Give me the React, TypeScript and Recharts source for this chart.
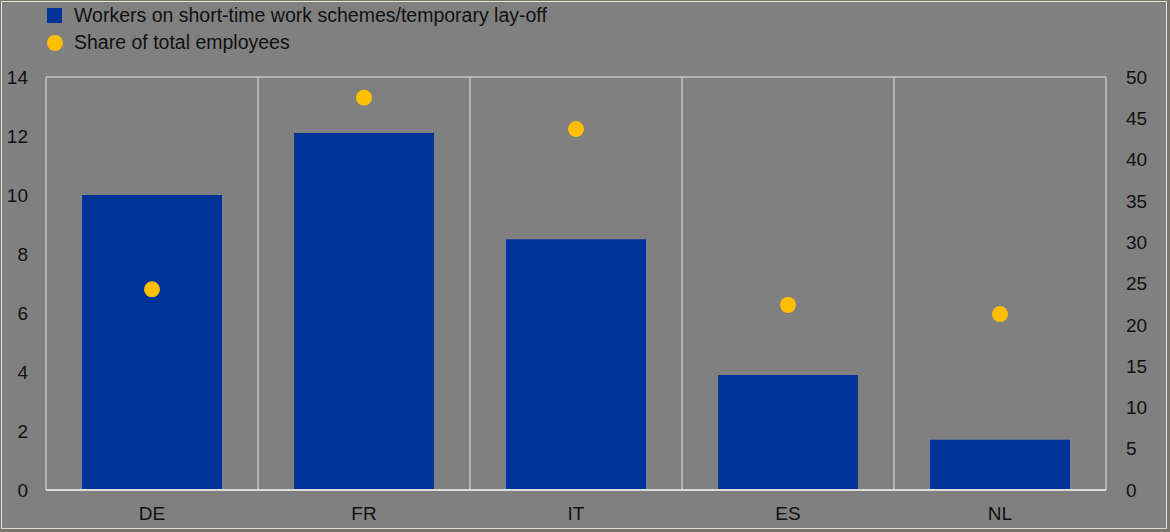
import * as React from "react";
import {Bar, CartesianGrid, ComposedChart, Line, XAxis, YAxis} from "recharts";

document.body.style.margin = "0";

const countries = ["DE", "FR", "IT", "ES", "NL"];
const workers = [10.0, 12.1, 8.5, 3.9, 1.7]; // millions, left axis
const share = [24.3, 47.5, 43.7, 22.4, 21.3]; // %, right axis
const leftTicks = [0, 2, 4, 6, 8, 10, 12, 14];
const rightTicks = [0, 5, 10, 15, 20, 25, 30, 35, 40, 45, 50];

const data = countries.map((name, i) => ({name, workers: workers[i], share: share[i]}));

const BLUE = "#003399";
const YELLOW = "#ffbf00";
const GRID = "#c4c4c4";
const font = "'Liberation Sans', Arial, sans-serif";

export default function App() {
  const tickStyle = {fill: "#111", fontSize: 19, fontFamily: font};
  return (
    <div style={{position: "relative", width: 1170, height: 532, background: "#75756c", overflow: "hidden"}}>
      <div style={{position: "absolute", left: 1, top: 1, width: 1164, height: 526, border: "1px solid #e4e4d0", background: "#808080"}} />
      <div style={{position: "absolute", left: 47, top: 2, fontFamily: font, fontSize: 19.5, color: "#111", lineHeight: "27px"}}>
        <div style={{display: "flex", alignItems: "center"}}>
          <span style={{width: 15, height: 15, background: BLUE, display: "inline-block", marginRight: 12}} />
          Workers on short-time work schemes/temporary lay-off
        </div>
        <div style={{display: "flex", alignItems: "center"}}>
          <span style={{width: 16, height: 16, borderRadius: 8, background: YELLOW, display: "inline-block", marginRight: 11}} />
          Share of total employees
        </div>
      </div>
      <div style={{position: "absolute", left: 0, top: 0}}>
        <ComposedChart width={1170} height={532} data={data} margin={{top: 77, right: 0, bottom: 0, left: 0}} barCategoryGap="17%">
          <CartesianGrid
            stroke={GRID}
            strokeWidth={1.5}
            verticalCoordinatesGenerator={({offset}: any) =>
              countries.map((_, i) => offset.left + (offset.width * i) / countries.length).concat(offset.left + offset.width)
            }
          />
          <XAxis dataKey="name" height={42} tickLine={false} axisLine={{stroke: "#dcdcdc", strokeWidth: 2}} tick={tickStyle} tickMargin={11} />
          <YAxis yAxisId="left" domain={[0, 14]} ticks={leftTicks} width={46} tickLine={false} axisLine={false} tick={tickStyle} tickMargin={12} />
          <YAxis yAxisId="right" orientation="right" domain={[0, 50]} ticks={rightTicks} width={64} tickLine={false} axisLine={false} tick={{...tickStyle, textAnchor: "start"}} tickMargin={14} />
          <Bar yAxisId="left" dataKey="workers" fill={BLUE} isAnimationActive={false} />
          <Line yAxisId="right" dataKey="share" stroke="none" dot={{r: 8, fill: YELLOW, stroke: "none"}} activeDot={false} isAnimationActive={false} />
        </ComposedChart>
      </div>
    </div>
  );
}
